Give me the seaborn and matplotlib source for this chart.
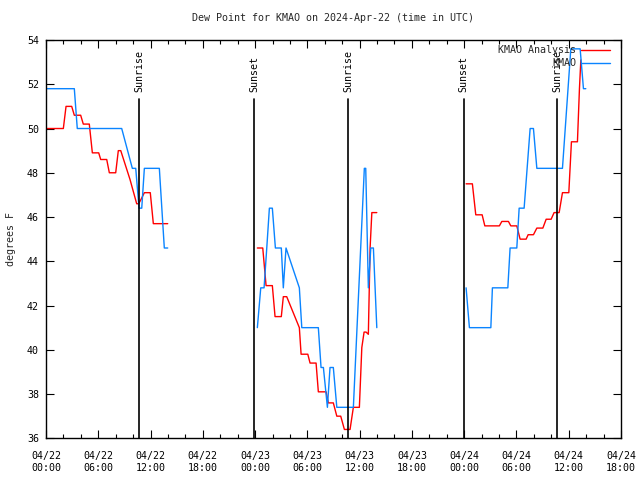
import numpy as np
import pandas as pd
import matplotlib
matplotlib.use("Agg")
import matplotlib.pyplot as plt
import matplotlib.dates as mdates
import seaborn as sns

# ---- data (hours after 2024-04-22 00:00 UTC, dew point in F) ----
analysis_hours = [0.15, 1.99, 2.30, 2.95, 3.25, 3.98, 4.28, 4.97, 5.32, 6.05, 6.28, 6.97, 7.27, 8.00,
                  8.30, 8.58, 9.64, 10.41, 10.64, 10.91, 11.29, 11.97, 12.32, 13.97,
                  None,
                  24.26, 24.88, 25.26, 25.98, 26.29, 27.01, 27.24, 27.63, 29.08, 29.28, 30.05, 30.31,
                  31.00, 31.26, 32.15, 32.41, 32.98, 33.38, 33.83, 34.25, 34.90, 35.28, 35.97,
                  36.25, 36.51, 36.74, 37.00, 37.20, 37.40, 37.97,
                  None,
                  48.22, 48.94, 49.33, 50.06, 50.37, 52.04, 52.32, 53.08, 53.35, 54.04, 54.42,
                  55.11, 55.34, 55.95, 56.34, 57.03, 57.41, 57.98, 58.32, 58.90, 59.28, 60.01,
                  60.31, 61.00, 61.23, 61.39]
analysis_vals = [50.0, 50.0, 51.0, 51.0, 50.6, 50.6, 50.2, 50.2, 48.9, 48.9, 48.6, 48.6, 48.0, 48.0,
                 49.0, 49.0, 47.7, 46.6, 46.6, 46.8, 47.1, 47.1, 45.7, 45.7,
                 None,
                 44.6, 44.6, 42.9, 42.9, 41.5, 41.5, 42.4, 42.4, 41.0, 39.8, 39.8, 39.4,
                 39.4, 38.1, 38.1, 37.6, 37.6, 37.0, 37.0, 36.4, 36.4, 37.4, 37.4,
                 40.1, 40.8, 40.8, 40.7, 44.6, 46.2, 46.2,
                 None,
                 47.5, 47.5, 46.1, 46.1, 45.6, 45.6, 45.8, 45.8, 45.6, 45.6, 45.0,
                 45.0, 45.2, 45.2, 45.5, 45.5, 45.9, 45.9, 46.2, 46.2, 47.1, 47.1,
                 49.4, 49.4, 51.8, 53.1]

obs_hours = [0.15, 3.25, 3.59, 8.69, 9.91, 10.30, 10.68, 10.99, 11.29, 13.01, 13.58, 13.97,
             None,
             24.26, 24.65, 25.03, 25.34, 25.64, 25.98, 26.33, 27.01, 27.24, 27.55, 29.08, 29.36,
             31.26, 31.57, 31.84, 32.30, 32.60, 32.98, 33.38, 35.28, 36.54, 36.70, 37.00,
             37.28, 37.58, 37.97,
             None,
             48.22, 48.60, 51.06, 51.24, 53.01, 53.27, 54.04, 54.31, 54.88, 55.57, 55.95,
             56.34, 59.28, 60.24, 61.31, 61.69, 61.96]
obs_vals = [51.8, 51.8, 50.0, 50.0, 48.2, 48.2, 46.4, 46.4, 48.2, 48.2, 44.6, 44.6,
            None,
            41.0, 42.8, 42.8, 44.6, 46.4, 46.4, 44.6, 44.6, 42.8, 44.6, 42.8, 41.0,
            41.0, 39.2, 39.2, 37.4, 39.2, 39.2, 37.4, 37.4, 48.2, 48.2, 42.8,
            44.6, 44.6, 41.0,
            None,
            42.8, 41.0, 41.0, 42.8, 42.8, 44.6, 44.6, 46.4, 46.4, 50.0, 50.0,
            48.2, 48.2, 53.6, 53.6, 51.8, 51.8]

event_hours = [10.68, 23.92, 34.68, 47.93, 58.68]
event_names = ["Sunrise", "Sunset", "Sunrise", "Sunset", "Sunrise"]

start = pd.Timestamp("2024-04-22 00:00")
end = pd.Timestamp("2024-04-24 18:00")


def to_frame(hours, vals, name):
    seg, rows = 0, []
    for h, v in zip(hours, vals):
        if h is None:
            seg += 1
            continue
        rows.append((start + pd.to_timedelta(h, unit="h"), v, seg))
    df = pd.DataFrame(rows, columns=["time", "dew", "seg"])
    df["series"] = name
    return df


ana = to_frame(analysis_hours, analysis_vals, "KMAO Analysis")
obs = to_frame(obs_hours, obs_vals, "KMAO")

sns.set_theme(style="ticks")
plt.rcParams["font.family"] = ["DejaVu Sans Mono"]
plt.rcParams["font.size"] = 7

fig = plt.figure(figsize=(6.4, 4.8), dpi=100)
ax = fig.add_axes([46 / 640, 1 - 438.3 / 480, (621 - 46) / 640, (438.3 - 40) / 480])

red = "#ff0000"
blue = "#0a84ff"
for seg, d in ana.groupby("seg"):
    sns.lineplot(data=d, x="time", y="dew", ax=ax, color=red, lw=1.0, sort=False,
                 estimator=None, label="KMAO Analysis" if seg == 0 else None, legend=False)
for seg, d in obs.groupby("seg"):
    sns.lineplot(data=d, x="time", y="dew", ax=ax, color=blue, lw=1.0, sort=False,
                 estimator=None, label="KMAO" if seg == 0 else None, legend=False)

ax.set_xlim(start, end)
ax.set_ylim(36, 54)
ax.set_yticks(np.arange(36, 55, 2))

for h, name in zip(event_hours, event_names):
    t = start + pd.to_timedelta(h, unit="h")
    ax.axvline(t, ymin=0, ymax=0.852, color="black", lw=1.2)
    ax.text(t, 0.87, name, transform=ax.get_xaxis_transform(), rotation=90,
            ha="center", va="bottom", fontsize=7.2, color="black")

ax.xaxis.set_major_locator(mdates.HourLocator(byhour=range(0, 24, 6)))
ax.xaxis.set_minor_locator(mdates.HourLocator(byhour=range(0, 24, 2)))
ax.xaxis.set_major_formatter(mdates.DateFormatter("%m/%d\n%H:%M"))

ax.tick_params(which="both", direction="in", top=True, right=True, colors="black",
               labelsize=7.2, width=0.8)
ax.tick_params(which="major", length=6, pad=5)
ax.tick_params(axis="x", which="major", pad=9)
ax.tick_params(which="minor", length=3)
for lab in ax.get_xticklabels():
    lab.set_linespacing(1.25)
for s in ax.spines.values():
    s.set_color("black")
    s.set_linewidth(1.0)

ax.set_xlabel("")
ax.set_ylabel("degrees F", fontsize=7.2, labelpad=8)
ax.set_title("Dew Point for KMAO on 2024-Apr-22 (time in UTC)", fontsize=7.2, pad=14)

handles, labels = ax.get_legend_handles_labels()
ax.legend(handles, labels, loc="upper right", bbox_to_anchor=(0.99, 1.0), frameon=False,
          markerfirst=False, handlelength=2.9, fontsize=7.2, labelspacing=0.3,
          borderaxespad=0.1, handletextpad=0.5)

fig.savefig("out.png", dpi=100)
